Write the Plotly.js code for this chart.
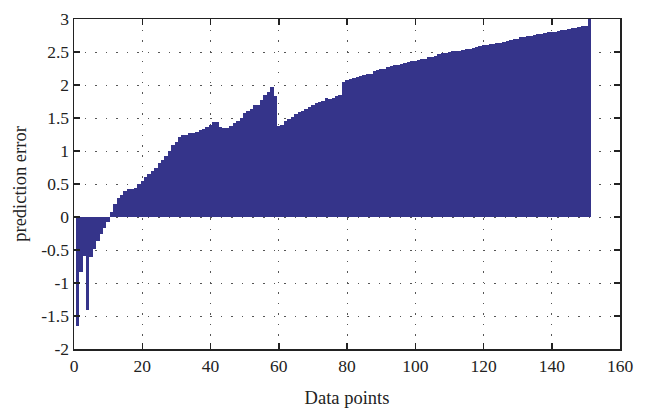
<!DOCTYPE html>
<html>
<head>
<meta charset="utf-8">
<script src="https://cdn.plot.ly/plotly-3.0.1.min.js"></script>
<style>html,body{margin:0;padding:0;background:#fff;}#chart{width:650px;height:408px;}</style>
</head>
<body>
<div id="chart"></div>
<script>
// prediction error per data point (1..151)
const errors = [
  -1.65, -0.83, -0.59, -1.41, -0.60, -0.48, -0.37, -0.25, -0.17, -0.08,
   0.07,  0.20,  0.29,  0.34,  0.40,  0.42,  0.42,  0.44,  0.50,  0.55,
   0.60,  0.65,  0.69,  0.74,  0.82,  0.87,  0.93,  1.00,  1.09,  1.14,
   1.21,  1.24,  1.25,  1.27,  1.28,  1.29,  1.32,  1.34,  1.37,  1.40,
   1.44,  1.44,  1.37,  1.35,  1.35,  1.38,  1.42,  1.46,  1.50,  1.57,
   1.61,  1.64,  1.69,  1.70,  1.78,  1.85,  1.89,  1.97,  1.83,  1.38,
   1.40,  1.46,  1.48,  1.52,  1.56,  1.59,  1.60,  1.63,  1.66,  1.70,
   1.73,  1.75,  1.76,  1.80,  1.79,  1.81,  1.83,  1.85,  2.05,  2.08,
   2.09,  2.10,  2.12,  2.14,  2.15,  2.16,  2.17,  2.21,  2.23,  2.24,
   2.25,  2.27,  2.29,  2.30,  2.31,  2.32,  2.33,  2.35,  2.36,  2.37,
   2.38,  2.39,  2.40,  2.42,  2.43,  2.44,  2.47,  2.48,  2.49,  2.50,
   2.51,  2.52,  2.52,  2.53,  2.54,  2.55,  2.56,  2.58,  2.59,  2.60,
   2.61,  2.62,  2.62,  2.63,  2.64,  2.65,  2.66,  2.68,  2.69,  2.70,
   2.72,  2.73,  2.74,  2.75,  2.76,  2.77,  2.78,  2.79,  2.80,  2.80,
   2.81,  2.82,  2.83,  2.84,  2.85,  2.86,  2.87,  2.88,  2.89,  2.90,
   3.20
];
const dataPoints = errors.map((_, i) => i + 1);

const xTickVals = [0, 20, 40, 60, 80, 100, 120, 140, 160];
const xTickText = ["0", "20", "40", "60", "80", "100", "120", "140", "160"];
const yTickVals = [-2, -1.5, -1, -0.5, 0, 0.5, 1, 1.5, 2, 2.5, 3];
const yTickText = ["-2", "-1.5", "-1", "-0.5", "0", "0.5", "1", "1.5", "2", "2.5", "3"];

const font = {family: "Liberation Serif, Times New Roman, serif", size: 17.5, color: "#222"};
const titleFont = {family: "Liberation Serif, Times New Roman, serif", size: 18.5, color: "#222"};

const trace = {
  type: "bar",
  x: dataPoints,
  y: errors,
  width: 1,
  marker: {color: "#35348a", line: {width: 0}},
  hoverinfo: "x+y"
};

const axisCommon = {
  showline: true,
  mirror: "ticks",
  linecolor: "#222",
  linewidth: 1.5,
  ticks: "inside",
  ticklen: 6,
  tickwidth: 1.5,
  tickcolor: "#222",
  showgrid: true,
  gridcolor: "#555",
  gridwidth: 1,
  griddash: "1.5px,9px",
  zeroline: false,
  tickfont: font
};

const layout = {
  width: 650,
  height: 408,
  margin: {l: 74, r: 30, t: 19, b: 59},
  paper_bgcolor: "#fff",
  plot_bgcolor: "#fff",
  bargap: 0,
  showlegend: false,
  font: font,
  xaxis: Object.assign({}, axisCommon, {
    range: [0, 160],
    tickmode: "array",
    tickvals: xTickVals,
    ticktext: xTickText,
    title: {text: "Data points", font: titleFont, standoff: 16}
  }),
  yaxis: Object.assign({}, axisCommon, {
    range: [-2, 3],
    tickmode: "array",
    tickvals: yTickVals,
    ticktext: yTickText,
    title: {text: "prediction error", font: titleFont, standoff: 10}
  })
};

Plotly.newPlot("chart", [trace], layout, {displayModeBar: false, staticPlot: true});
</script>
</body>
</html>
